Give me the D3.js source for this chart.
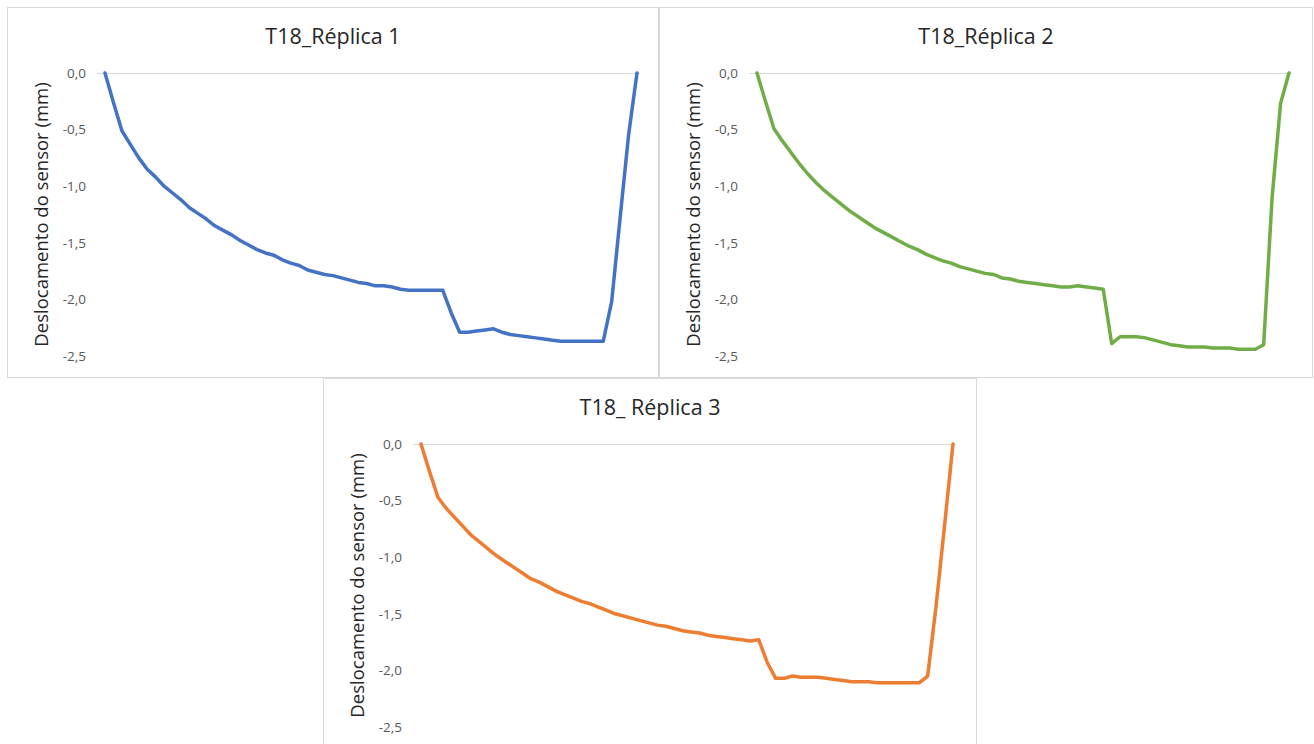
<!DOCTYPE html>
<html>
<head>
<meta charset="utf-8">
<script src="https://cdn.jsdelivr.net/npm/d3@7"></script>
<style>
  body { margin: 0; background: #fff; }
  svg { display: block; font-family: "Open Sans", sans-serif; }
</style>
</head>
<body>
<svg id="chart" width="1314" height="744"></svg>
<script>
// leituras do sensor (mm) por ponto de medição
var replica1 = [0, -0.26, -0.51, -0.63, -0.75, -0.85, -0.92, -1.00, -1.06, -1.12,
  -1.19, -1.24, -1.29, -1.35, -1.39, -1.43, -1.48, -1.52, -1.56, -1.59,
  -1.61, -1.65, -1.68, -1.70, -1.74, -1.76, -1.78, -1.79, -1.81, -1.83,
  -1.85, -1.86, -1.88, -1.88, -1.89, -1.91, -1.92, -1.92, -1.92, -1.92,
  -1.92, -2.12, -2.29, -2.29, -2.28, -2.27, -2.26, -2.29, -2.31, -2.32,
  -2.33, -2.34, -2.35, -2.36, -2.37, -2.37, -2.37, -2.37, -2.37, -2.37,
  -2.02, -1.28, -0.55, 0];

var replica2 = [0, -0.25, -0.49, -0.60, -0.70, -0.80, -0.89, -0.97, -1.04, -1.10,
  -1.16, -1.22, -1.27, -1.32, -1.37, -1.41, -1.45, -1.49, -1.53, -1.56,
  -1.60, -1.63, -1.66, -1.68, -1.71, -1.73, -1.75, -1.77, -1.78, -1.81,
  -1.82, -1.84, -1.85, -1.86, -1.87, -1.88, -1.89, -1.89, -1.88, -1.89,
  -1.90, -1.91, -2.39, -2.33, -2.33, -2.33, -2.34, -2.36, -2.38, -2.40,
  -2.41, -2.42, -2.42, -2.42, -2.43, -2.43, -2.43, -2.44, -2.44, -2.44,
  -2.40, -1.10, -0.27, 0];

var replica3 = [0, -0.24, -0.47, -0.57, -0.65, -0.73, -0.81, -0.87, -0.93, -0.99,
  -1.04, -1.09, -1.14, -1.19, -1.22, -1.26, -1.30, -1.33, -1.36, -1.39,
  -1.41, -1.44, -1.47, -1.50, -1.52, -1.54, -1.56, -1.58, -1.60, -1.61,
  -1.63, -1.65, -1.66, -1.67, -1.69, -1.70, -1.71, -1.72, -1.73, -1.74,
  -1.73, -1.93, -2.07, -2.07, -2.05, -2.06, -2.06, -2.06, -2.07, -2.08,
  -2.09, -2.10, -2.10, -2.10, -2.11, -2.11, -2.11, -2.11, -2.11, -2.11,
  -2.05, -1.43, -0.72, 0];

var titles = ["T18_Réplica 1", "T18_Réplica 2", "T18_ Réplica 3"];
var colors = ["#4472C4", "#70AD47", "#ED7D31"];
var yTicks = [0, -0.5, -1.0, -1.5, -2.0, -2.5];
var yLabel = "Deslocamento do sensor (mm)";

var svg = d3.select("#chart");
var fmt = function(d) { return d3.format(".1f")(d).replace(".", ",").replace("−", "-"); };

function drawPanel(data, title, color, left, top, w, h) {
    var g = svg.append("g").attr("transform", "translate(" + left + "," + top + ")");

    g.append("rect")
        .attr("x", 0.5).attr("y", 0.5)
        .attr("width", w).attr("height", h)
        .attr("fill", "#fff")
        .attr("stroke", "#d9d9d9");

    var x = d3.scaleLinear().domain([0, data.length - 1]).range([98, 630]);
    var y = d3.scaleLinear().domain([0, -2.5]).range([66, 349]);

    // titulo
    g.append("text")
        .attr("x", w / 2 + 0.5)
        .attr("y", 37)
        .attr("text-anchor", "middle")
        .attr("fill", "#262626")
        .style("font-size", "21.5px")
        .text(title);

    // eixo y, so os rotulos
    var yAxis = d3.axisLeft(y).tickValues(yTicks).tickFormat(fmt).tickSize(0).tickPadding(0);
    var ya = g.append("g").attr("transform", "translate(79,0)").call(yAxis);
    ya.select(".domain").remove();
    ya.selectAll("text")
        .attr("fill", "#595959")
        .style("font-size", "13.5px")
        .style("font-family", "Open Sans, sans-serif");

    // linha do zero (eixo das categorias)
    g.append("line")
        .attr("x1", 90).attr("x2", 633)
        .attr("y1", y(0) + 0.5).attr("y2", y(0) + 0.5)
        .attr("stroke", "#d9d9d9").attr("stroke-width", 1);

    g.append("text")
        .attr("transform", "translate(35," + (y(-1.25)) + ") rotate(-90)")
        .attr("text-anchor", "middle")
        .attr("dy", "0.35em")
        .attr("fill", "#262626")
        .style("font-size", "18.5px")
        .text(yLabel);

    var line = d3.line()
        .x(function(d, i) { return x(i); })
        .y(function(d) { return y(d); });

    g.append("path")
        .datum(data)
        .attr("fill", "none")
        .attr("stroke", color)
        .attr("stroke-width", 3.5)
        .attr("stroke-linejoin", "round")
        .attr("stroke-linecap", "round")
        .attr("d", line);
}

drawPanel(replica1, titles[0], colors[0], 7, 7, 651, 370);
drawPanel(replica2, titles[1], colors[1], 659, 7, 653, 370);
drawPanel(replica3, titles[2], colors[2], 323, 378, 653, 370);
</script>
</body>
</html>
